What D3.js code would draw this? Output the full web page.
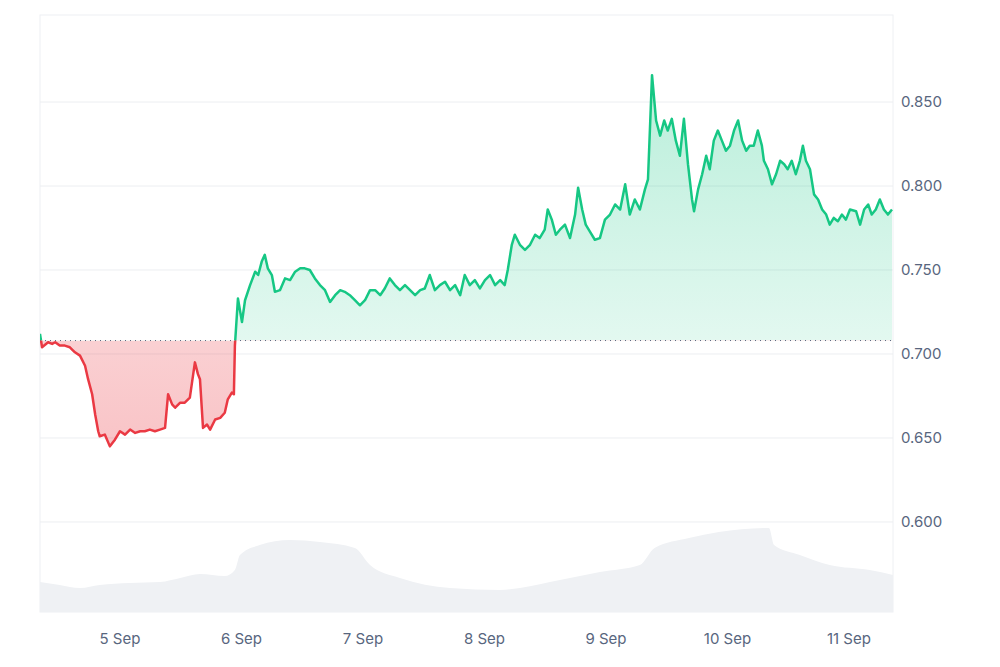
<!DOCTYPE html>
<html><head><meta charset="utf-8">
<script src="https://cdn.jsdelivr.net/npm/d3@7"></script>
<style>body{margin:0;background:#fff;font-family:Inter,"Noto Sans",sans-serif}</style>
</head><body><div id="chart"></div>
<script>
// hours since 4 Sep 00:00, price
const priceHours = [8.2,8.6,9.8,10.6,11.2,12.1,13.1,14.1,15.1,16.1,17.1,17.7,18.5,19.1,19.7,20.0,21.0,22.0,23.0,24.0,25.0,26.0,27.0,28.0,28.9,29.9,30.9,31.9,32.9,33.5,34.3,34.9,35.9,36.8,37.8,38.8,39.4,39.8,40.4,41.2,41.8,42.8,43.8,44.7,45.3,46.1,46.5,46.7,
47.3,48.1,48.7,49.7,50.7,51.3,52.0,52.6,53.2,54.0,54.6,55.6,56.6,57.6,58.6,59.6,60.5,61.5,62.5,63.5,64.5,65.5,66.5,67.5,68.4,69.4,70.4,71.4,72.4,73.4,74.4,75.4,76.3,77.3,78.3,79.3,80.3,81.3,82.3,83.3,84.2,85.2,86.2,87.2,88.2,89.2,90.2,91.2,92.1,93.1,94.1,95.1,96.1,97.1,98.1,99.1,100.0,100.6,101.4,102.0,103.0,104.0,105.0,106.0,106.9,107.9,108.5,109.3,110.1,110.9,111.9,112.9,113.9,114.5,115.3,116.0,116.8,117.8,118.8,119.8,120.8,121.8,122.8,123.8,124.7,125.7,126.7,127.7,128.3,129.1,129.9,130.7,131.5,132.2,133.0,133.8,134.6,135.4,136.2,137.0,137.4,138.2,139.0,139.8,140.5,141.3,142.1,142.9,143.7,144.5,145.3,146.1,146.9,147.7,148.4,149.2,150.0,150.8,151.2,152.0,152.8,153.6,154.4,155.2,155.9,156.7,157.5,158.3,158.9,159.5,160.3,161.1,161.9,162.7,163.5,164.2,165.0,165.8,166.6,167.4,168.2,169.4,170.2,171.0,171.8,172.5,173.3,174.1,174.9,175.7,176.5];
const priceValues = [0.712,0.704,0.707,0.706,0.707,0.705,0.705,0.704,0.701,0.699,0.693,0.685,0.676,0.664,0.654,0.651,0.652,0.645,0.649,0.654,0.652,0.655,0.653,0.654,0.654,0.655,0.654,0.655,0.656,0.676,0.670,0.668,0.671,0.671,0.674,0.695,0.688,0.685,0.656,0.658,0.655,0.661,0.662,0.665,0.673,0.677,0.676,0.705,
0.733,0.719,0.732,0.741,0.749,0.747,0.755,0.759,0.751,0.747,0.737,0.738,0.745,0.744,0.749,0.751,0.751,0.750,0.745,0.741,0.738,0.731,0.735,0.738,0.737,0.735,0.732,0.729,0.732,0.738,0.738,0.735,0.739,0.745,0.741,0.738,0.741,0.738,0.735,0.738,0.739,0.747,0.738,0.741,0.743,0.738,0.741,0.735,0.747,0.741,0.744,0.739,0.744,0.747,0.741,0.744,0.741,0.750,0.765,0.771,0.765,0.762,0.765,0.771,0.769,0.774,0.786,0.780,0.771,0.774,0.777,0.769,0.783,0.799,0.786,0.777,0.773,0.768,0.769,0.780,0.783,0.789,0.786,0.801,0.783,0.792,0.786,0.798,0.804,0.866,0.839,0.830,0.839,0.833,0.840,0.827,0.818,0.840,0.813,0.792,0.785,0.798,0.807,0.818,0.810,0.827,0.833,0.827,0.821,0.824,0.833,0.839,0.827,0.821,0.824,0.824,0.833,0.824,0.815,0.810,0.801,0.807,0.815,0.813,0.810,0.815,0.807,0.815,0.824,0.815,0.810,0.795,0.792,0.786,0.783,0.777,0.781,0.779,0.783,0.780,0.786,0.785,0.777,0.786,0.789,0.783,0.786,0.792,0.786,0.783,0.786];
const baselinePrice = 0.708;
const volumeHours = [8.2,12.1,16.1,20.0,25.9,31.9,35.9,39.8,44.7,46.7,47.7,51.6,57.6,63.5,70.4,73.4,79.3,89.2,99.1,103.0,110.9,118.8,126.7,129.6,136.4,142.3,152.2,153.2,158.3,164.2,172.1,176.7];
const volumeValues = [30,27,24,27,29,30,34,38,36,42,57,67,72,70,64,47,34,24,22,24,32,40,47,64,74,80,84,67,57,47,42,37];
const xTicks = [24,48,72,96,120,144,168];
const xTickLabels = ["5 Sep","6 Sep","7 Sep","8 Sep","9 Sep","10 Sep","11 Sep"];
const yTicks = [0.60,0.65,0.70,0.75,0.80,0.85];

const W = 1000, H = 667, L = 40, R = 893, T = 15, B = 612;
const svg = d3.select("#chart").append("svg").attr("width", W).attr("height", H);
const x = d3.scaleLinear().domain([8.2, 176.7]).range([L, R]);
const y = d3.scaleLinear().domain([0.5464, 0.9018]).range([B, T]);
const yv = d3.scaleLinear().domain([0, 100]).range([B, B - 100]);
const price = priceHours.map((h, i) => ({h, v: priceValues[i]}));
const vol = volumeHours.map((h, i) => ({h, v: volumeValues[i]}));

// frame and grid
svg.append("rect").attr("x", L).attr("y", T).attr("width", R - L).attr("height", B - T)
    .attr("fill", "none").attr("stroke", "#eef0f3");
svg.selectAll(".grid").data(yTicks).enter().append("line")
    .attr("x1", L).attr("x2", R).attr("y1", d => y(d)).attr("y2", d => y(d))
    .attr("stroke", "#eceef1");
svg.selectAll(".ylab").data(yTicks).enter().append("text")
    .attr("x", 901).attr("y", d => y(d) + 5).attr("fill", "#58667e").style("font-size", "15px")
    .text(d => d.toFixed(3));
svg.selectAll(".xlab").data(xTicks).enter().append("text")
    .attr("x", d => x(d)).attr("y", 644).attr("text-anchor", "middle").attr("fill", "#58667e")
    .style("font-size", "15px").text((d, i) => xTickLabels[i]);

// volume
svg.append("path").datum(vol)
    .attr("d", d3.area().x(d => x(d.h)).y0(B).y1(d => yv(d.v)).curve(d3.curveMonotoneX))
    .attr("fill", "#eff1f4");

const defs = svg.append("defs");
const gG = defs.append("linearGradient").attr("id", "gG").attr("x1", 0).attr("x2", 0).attr("y1", 0).attr("y2", 1);
gG.append("stop").attr("offset", "0").attr("stop-color", "#16c784").attr("stop-opacity", 0.3);
gG.append("stop").attr("offset", "1").attr("stop-color", "#16c784").attr("stop-opacity", 0.05);
const gR = defs.append("linearGradient").attr("id", "gR").attr("x1", 0).attr("x2", 0).attr("y1", 0).attr("y2", 1);
gR.append("stop").attr("offset", "0").attr("stop-color", "#ea3943").attr("stop-opacity", 0.08);
gR.append("stop").attr("offset", "1").attr("stop-color", "#ea3943").attr("stop-opacity", 0.3);
const by = y(baselinePrice);
defs.append("clipPath").attr("id", "above").append("rect").attr("x", L).attr("y", T - 10).attr("width", R - L).attr("height", by - T + 10);
defs.append("clipPath").attr("id", "below").append("rect").attr("x", L).attr("y", by).attr("width", R - L).attr("height", B - by);

const area = d3.area().x(d => x(d.h)).y0(by).y1(d => y(d.v));
const line = d3.line().x(d => x(d.h)).y(d => y(d.v));
svg.append("path").datum(price).attr("d", area).attr("fill", "url(#gG)").attr("clip-path", "url(#above)");
svg.append("path").datum(price).attr("d", area).attr("fill", "url(#gR)").attr("clip-path", "url(#below)");

svg.append("line").attr("x1", L).attr("x2", R).attr("y1", by).attr("y2", by)
    .attr("stroke", "#58667e").attr("stroke-dasharray", "1,4");

svg.append("path").datum(price).attr("d", line).attr("fill", "none").attr("stroke", "#16c784")
    .attr("stroke-width", 2.5).attr("stroke-linejoin", "round").attr("clip-path", "url(#above)");
svg.append("path").datum(price).attr("d", line).attr("fill", "none").attr("stroke", "#ea3943")
    .attr("stroke-width", 2.5).attr("stroke-linejoin", "round").attr("clip-path", "url(#below)");
</script></body></html>
